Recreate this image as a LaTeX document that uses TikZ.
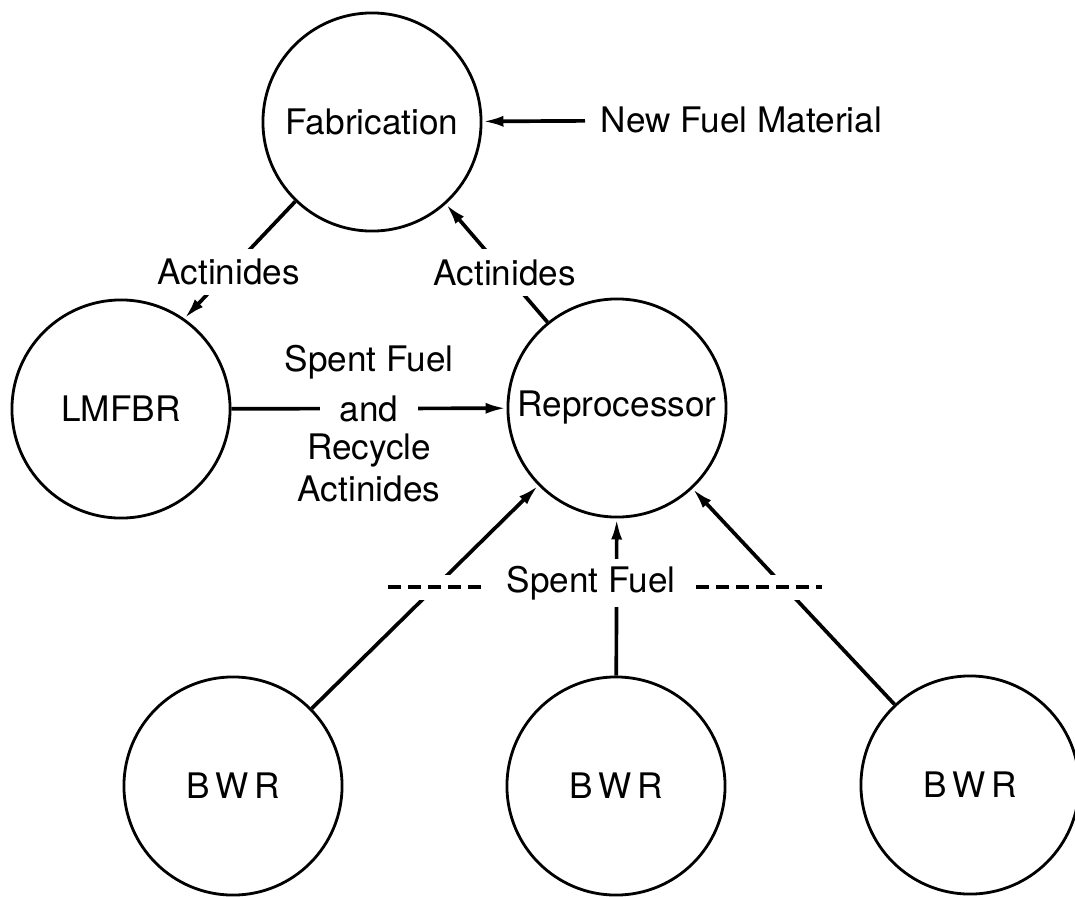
\documentclass[tikz,border=0pt]{standalone}
\usepackage{fontspec}
\setmainfont{TeX Gyre Heros}
\usetikzlibrary{arrows.meta}

\begin{document}
\begin{tikzpicture}[
    x=0.01cm, y=-0.01cm,
    unit/.style={circle, draw=black, line width=0.8pt,
                 minimum size=2.18cm, inner sep=0pt},
    flow/.style={->, line width=1.05pt,
                 >={Latex[length=2.1mm, width=1.1mm]}},
    gaplabel/.style={fill=white, inner sep=0.1cm},
    spentdash/.style={line width=1.05pt, dash pattern=on 0.13cm off 0.07cm,
                      preaction={draw, white, solid, line width=0.25cm}},
]
\useasboundingbox (0,0) rectangle (1075,896);

% Plants
\node[unit] (fab)   at (372,122) {Fabrication};
\node[unit] (lmfbr) at (121,409) {LMFBR};
\node[unit] (repro) at (617,408) {Reprocessor};
\node[unit] (bwra)  at (233,786) {B\,W\,R};
\node[unit] (bwrb)  at (616,786) {B\,W\,R};
\node[unit] (bwrc)  at (970,785) {B\,W\,R};

% Feed into fabrication
\node[anchor=west, inner sep=0.15cm] (feed) at (585,120) {New Fuel Material};
\draw[flow] (feed) -- (fab);

% Actinides loop
\draw[flow] (fab.226) -- node[gaplabel, pos=0.6] {Actinides} (lmfbr.55);
\draw[flow] (repro.129) -- node[gaplabel, pos=0.42] {Actinides} (fab.-48);

% Breeder to reprocessor
\draw[flow] (lmfbr) -- node[gaplabel, inner xsep=0.2cm] (and) {and} (repro);
\node[inner sep=1pt, anchor=south] (sfuel) at (and.north) {Spent Fuel};
\node[inner sep=0pt, anchor=north, align=center] (recyc) at (and.south)
     {Recycle\\Actinides};

% BWRs to reprocessor
\draw[flow] (bwra) -- (repro);
\draw[flow] (bwrb) -- (repro);
\draw[flow] (bwrc) -- (repro);

\coordinate (dl) at (388,587);
\coordinate (dr) at (822,587);
\node[gaplabel, inner xsep=0.2cm, inner ysep=0.07cm] (spent) at (591,583)
     {Spent Fuel};
\draw[spentdash] (dl) -- (dl -| spent.west);
\draw[spentdash] (spent.east |- dr) -- (dr);

\end{tikzpicture}
\end{document}
